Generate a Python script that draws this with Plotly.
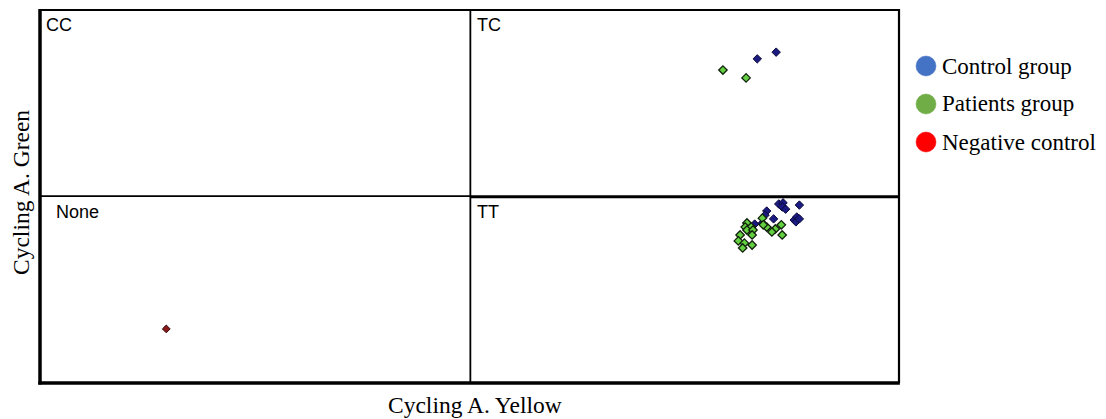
import plotly.graph_objects as go

# Data (axis units 0-100, quadrant split at 50)
control_x = [85.7, 83.5, 86.0, 86.5, 86.4, 86.8, 88.4, 84.6, 84.4, 85.4, 84.1, 83.2, 87.8, 88.1, 88.0, 88.4]
control_y = [88.7, 86.9, 48.0, 48.3, 47.2, 46.6, 47.7, 46.1, 45.0, 44.0, 42.9, 42.6, 43.7, 44.5, 43.2, 44.0]
patients_x = [79.5, 82.2, 84.1, 82.3, 82.1, 82.8, 82.3, 83.0, 81.5, 82.9, 81.3, 82.0, 82.9, 81.8, 86.3, 86.4, 85.6, 85.2, 84.6, 84.2]
patients_y = [83.9, 81.8, 44.2, 42.9, 41.8, 41.8, 41.0, 41.0, 39.7, 39.7, 38.1, 37.5, 37.0, 36.2, 42.4, 39.7, 41.3, 40.5, 41.8, 42.4]
negative_x = [14.7]
negative_y = [14.5]

series_names = ["Control group", "Patients group", "Negative control"]
legend_colors = ["#4472C4", "#70AD47", "#FF0000"]
quadrant_labels = ["CC", "TC", "None", "TT"]
x_title = "Cycling A. Yellow"
y_title = "Cycling A. Green"

fig = go.Figure()
fig.add_trace(go.Scatter(x=control_x, y=control_y, mode="markers", name=series_names[0],
                         marker=dict(symbol="diamond", size=6.5, color="#1a1a80", line=dict(color="#0c0c3a", width=1))))
fig.add_trace(go.Scatter(x=patients_x, y=patients_y, mode="markers", name=series_names[1],
                         marker=dict(symbol="diamond", size=6.5, color="#62d040", line=dict(color="#10200a", width=1.3))))
fig.add_trace(go.Scatter(x=negative_x, y=negative_y, mode="markers", name=series_names[2],
                         marker=dict(symbol="diamond", size=6, color="#8b1a1a", line=dict(color="#300808", width=1))))

W, H = 1106, 419
L, R, T, B = 40, 899, 10, 383
PW, PH = R - L, B - T


def px_x(p):
    return (p - L) / PW


def px_y(p):
    return (B - p) / PH


shapes = []
# frame (paper refs so the lines are not clipped by the plot area)
shapes.append(dict(type="line", xref="paper", yref="paper", x0=0, x1=0, y0=-0.004, y1=1.003, line=dict(color="black", width=3.5)))
shapes.append(dict(type="line", xref="paper", yref="paper", x0=-0.002, x1=1.001, y0=0, y1=0, line=dict(color="black", width=3.5)))
shapes.append(dict(type="line", xref="paper", yref="paper", x0=0, x1=1.001, y0=1, y1=1, line=dict(color="black", width=2.2)))
shapes.append(dict(type="line", xref="paper", yref="paper", x0=1, x1=1, y0=0, y1=1.003, line=dict(color="black", width=2.2)))
# dividers
shapes.append(dict(type="line", xref="x", yref="y", x0=50.1, x1=50.1, y0=0, y1=100, line=dict(color="black", width=1.8)))
shapes.append(dict(type="line", xref="x", yref="y", x0=0, x1=50.1, y0=50.1, y1=50.1, line=dict(color="black", width=1.6)))
shapes.append(dict(type="line", xref="x", yref="y", x0=50.1, x1=100, y0=49.9, y1=49.9, line=dict(color="black", width=3)))

annotations = []
label_pos = [(0.5, 99.3), (50.6, 99.3), (1.6, 49.1), (50.6, 49.1)]
for lab, (lx, ly) in zip(quadrant_labels, label_pos):
    annotations.append(dict(x=lx, y=ly, xref="x", yref="y", text=lab, showarrow=False,
                            xanchor="left", yanchor="top",
                            font=dict(family="Liberation Sans, Arial", size=18, color="black")))

# custom legend
leg_y = [66, 104, 142]
for name, col, py in zip(series_names, legend_colors, leg_y):
    annotations.append(dict(xref="paper", yref="paper", x=px_x(940), y=px_y(py),
                            text=name, showarrow=False, xanchor="left", yanchor="middle",
                            font=dict(family="Liberation Serif, Times New Roman", size=23, color="black")))
    shapes.append(dict(type="circle", xref="paper", yref="paper",
                       x0=px_x(916), x1=px_x(936),
                       y0=px_y(py + 10), y1=px_y(py - 10),
                       fillcolor=col, line=dict(color=col, width=0.5)))

annotations.append(dict(xref="paper", yref="paper", x=px_x(475), y=px_y(405),
                        text=x_title, showarrow=False, xanchor="center", yanchor="middle",
                        font=dict(family="Liberation Serif, Times New Roman", size=23.5, color="black")))
annotations.append(dict(xref="paper", yref="paper", x=px_x(21), y=px_y(193),
                        text=y_title, showarrow=False, xanchor="center", yanchor="middle", textangle=-90,
                        font=dict(family="Liberation Serif, Times New Roman", size=23.5, color="black")))

fig.update_layout(
    width=W, height=H,
    margin=dict(l=L, r=W - R, t=T, b=H - B),
    plot_bgcolor="white", paper_bgcolor="white",
    showlegend=False,
    xaxis=dict(range=[0, 100], showgrid=False, zeroline=False, showticklabels=False, ticks="", showline=False, fixedrange=True),
    yaxis=dict(range=[0, 100], showgrid=False, zeroline=False, showticklabels=False, ticks="", showline=False, fixedrange=True),
    shapes=shapes,
    annotations=annotations,
)

fig.write_html("out.html", config={"displayModeBar": False},
               post_script="document.body.style.margin='0';document.body.style.overflow='hidden';")
